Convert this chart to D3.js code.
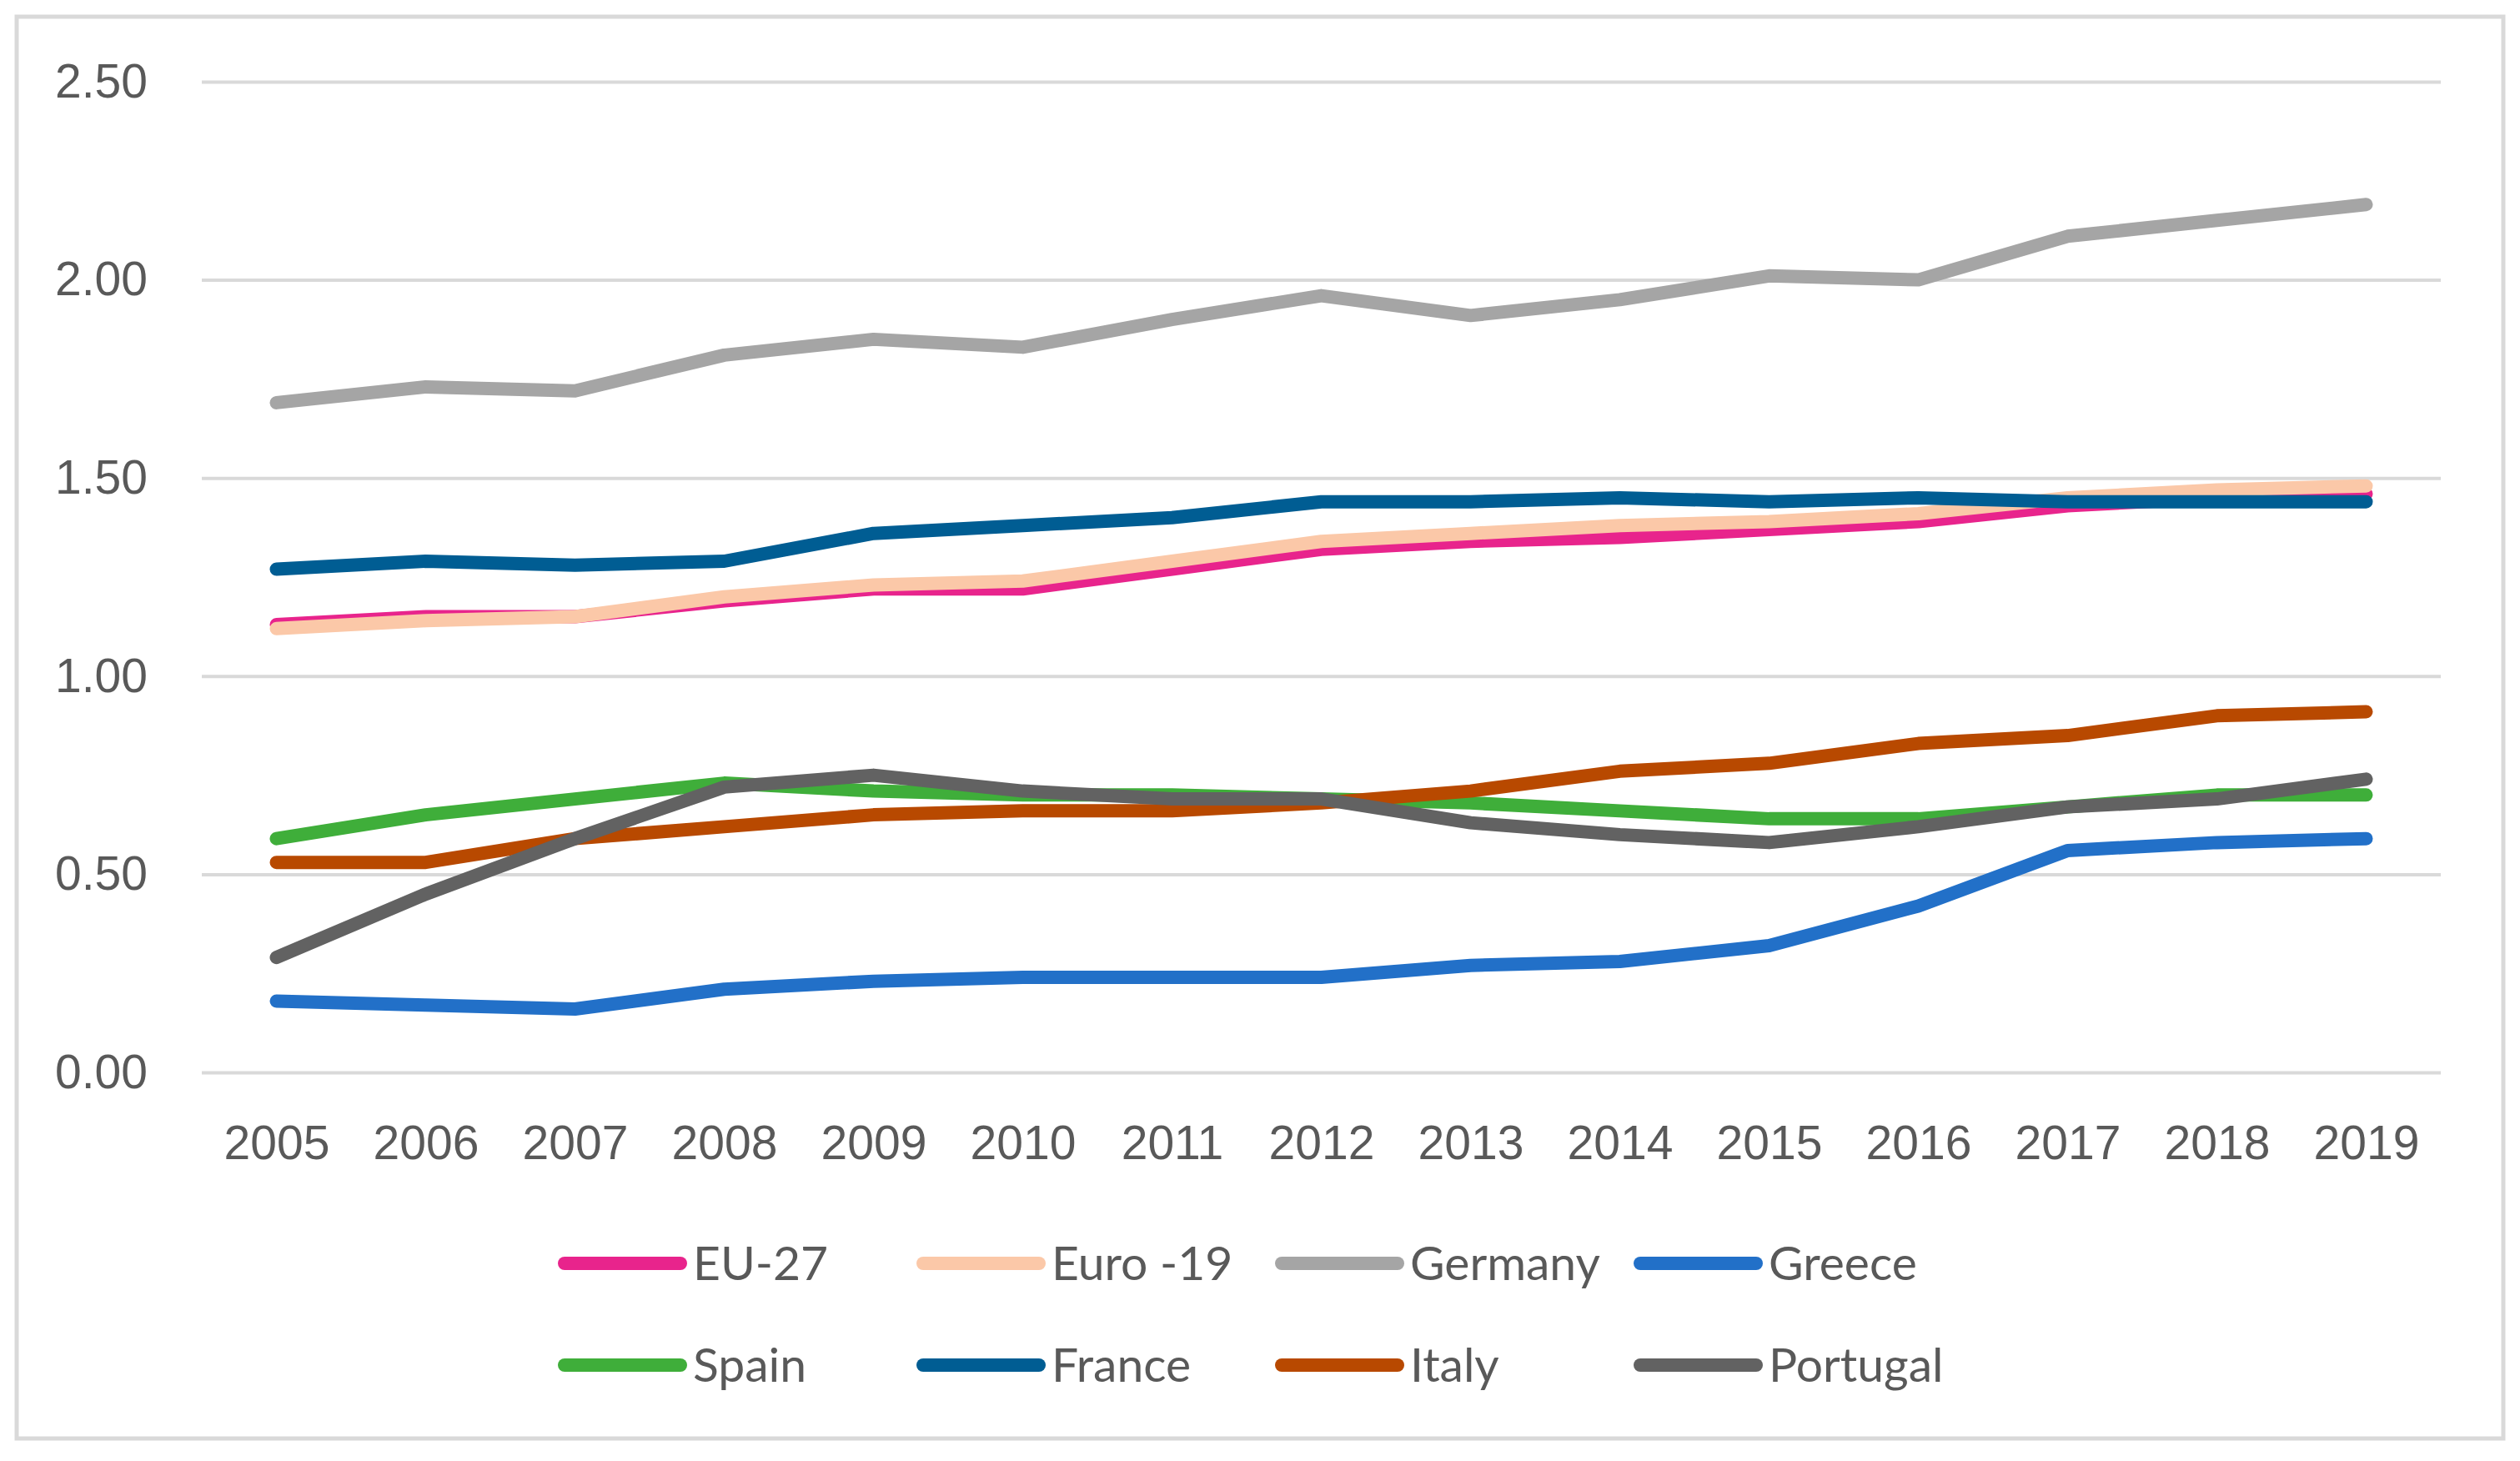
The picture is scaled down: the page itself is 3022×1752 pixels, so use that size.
<!DOCTYPE html>
<html>
<head>
<meta charset="utf-8">
<script src="https://cdn.jsdelivr.net/npm/d3@7"></script>
<style>
    body { margin: 0; background: #ffffff; }
    svg { display: block; font-family: Lato, "Open Sans", sans-serif; }
</style>
</head>
<body>
<div id="chart"></div>
<script>
// years on the x axis
var years = [2005, 2006, 2007, 2008, 2009, 2010, 2011, 2012, 2013, 2014, 2015, 2016, 2017, 2018, 2019];
var yTicks = [0, 0.5, 1, 1.5, 2, 2.5];

// series values
var eu27     = [1.13, 1.15, 1.15, 1.19, 1.22, 1.22, 1.27, 1.32, 1.34, 1.35, 1.37, 1.39, 1.43, 1.45, 1.46];
var euro19   = [1.12, 1.14, 1.15, 1.20, 1.23, 1.24, 1.29, 1.34, 1.36, 1.38, 1.39, 1.41, 1.45, 1.47, 1.48];
var germany  = [1.69, 1.73, 1.72, 1.81, 1.85, 1.83, 1.90, 1.96, 1.91, 1.95, 2.01, 2.00, 2.11, 2.15, 2.19];
var greece   = [0.18, 0.17, 0.16, 0.21, 0.23, 0.24, 0.24, 0.24, 0.27, 0.28, 0.32, 0.42, 0.56, 0.58, 0.59];
var spain    = [0.59, 0.65, 0.69, 0.73, 0.71, 0.70, 0.70, 0.69, 0.68, 0.66, 0.64, 0.64, 0.67, 0.70, 0.70];
var france   = [1.27, 1.29, 1.28, 1.29, 1.36, 1.38, 1.40, 1.44, 1.44, 1.45, 1.44, 1.45, 1.44, 1.44, 1.44];
var italy    = [0.53, 0.53, 0.59, 0.62, 0.65, 0.66, 0.66, 0.68, 0.71, 0.76, 0.78, 0.83, 0.85, 0.90, 0.91];
var portugal = [0.29, 0.45, 0.59, 0.72, 0.75, 0.71, 0.69, 0.69, 0.63, 0.60, 0.58, 0.62, 0.67, 0.69, 0.74];

var seriesNames  = ["EU-27", "Euro -19", "Germany", "Greece", "Spain", "France", "Italy", "Portugal"];
var seriesValues = [eu27, euro19, germany, greece, spain, france, italy, portugal];
var seriesColors = ["#e8248c", "#fbc8a8", "#a5a5a5", "#2270c8", "#3fae3a", "#005d93", "#b84900", "#626262"];

var width = 3022, height = 1752;
var plot = {left: 242, right: 2927, top: 98, bottom: 1286};
var textColor = "#595959";
var gridColor = "#d9d9d9";

var svg = d3.select("#chart")
    .append("svg")
    .attr("width", width)
    .attr("height", height);

// outer frame
svg.append("rect")
    .attr("x", 20)
    .attr("y", 20)
    .attr("width", 2982)
    .attr("height", 1705)
    .attr("fill", "#ffffff")
    .attr("stroke", gridColor)
    .attr("stroke-width", 5);

var x = d3.scalePoint()
    .domain(years)
    .range([plot.left, plot.right])
    .padding(0.5);

var y = d3.scaleLinear()
    .domain([0, 2.5])
    .range([plot.bottom, plot.top]);

// y axis with gridlines
var yAxis = svg.append("g")
    .attr("transform", "translate(" + plot.left + ",0)")
    .call(d3.axisLeft(y)
        .tickValues(yTicks)
        .tickFormat(d3.format(".2f"))
        .tickSize(-(plot.right - plot.left))
        .tickPadding(65));
yAxis.select(".domain").remove();
yAxis.selectAll(".tick line")
    .attr("stroke", gridColor)
    .attr("stroke-width", 4);
yAxis.selectAll(".tick text")
    .attr("fill", textColor)
    .attr("font-size", 57);

// x axis labels
var xAxis = svg.append("g")
    .attr("transform", "translate(0," + plot.bottom + ")")
    .call(d3.axisBottom(x)
        .tickSize(0)
        .tickPadding(64));
xAxis.select(".domain").remove();
xAxis.selectAll(".tick text")
    .attr("fill", textColor)
    .attr("font-size", 57);

var line = d3.line()
    .x(function (d, i) { return x(years[i]); })
    .y(function (d) { return y(d); });

svg.selectAll(".series")
    .data(seriesValues)
    .enter()
    .append("path")
    .attr("class", "series")
    .attr("d", line)
    .attr("fill", "none")
    .attr("stroke", function (d, i) { return seriesColors[i]; })
    .attr("stroke-width", 16)
    .attr("stroke-linecap", "round")
    .attr("stroke-linejoin", "round");

// legend, 4 columns x 2 rows
var legend = svg.selectAll(".legend")
    .data(seriesNames)
    .enter()
    .append("g")
    .attr("class", "legend")
    .attr("transform", function (d, i) {
        return "translate(" + (669 + (i % 4) * 430) + "," + (1515 + Math.floor(i / 4) * 122) + ")";
    });

legend.append("line")
    .attr("x1", 8)
    .attr("x2", 147)
    .attr("y1", 0)
    .attr("y2", 0)
    .attr("stroke", function (d, i) { return seriesColors[i]; })
    .attr("stroke-width", 16)
    .attr("stroke-linecap", "round");

legend.append("text")
    .attr("x", 162)
    .attr("y", 0)
    .attr("dy", "0.35em")
    .attr("fill", textColor)
    .attr("font-size", 57)
    .text(function (d) { return d; });
</script>
</body>
</html>
